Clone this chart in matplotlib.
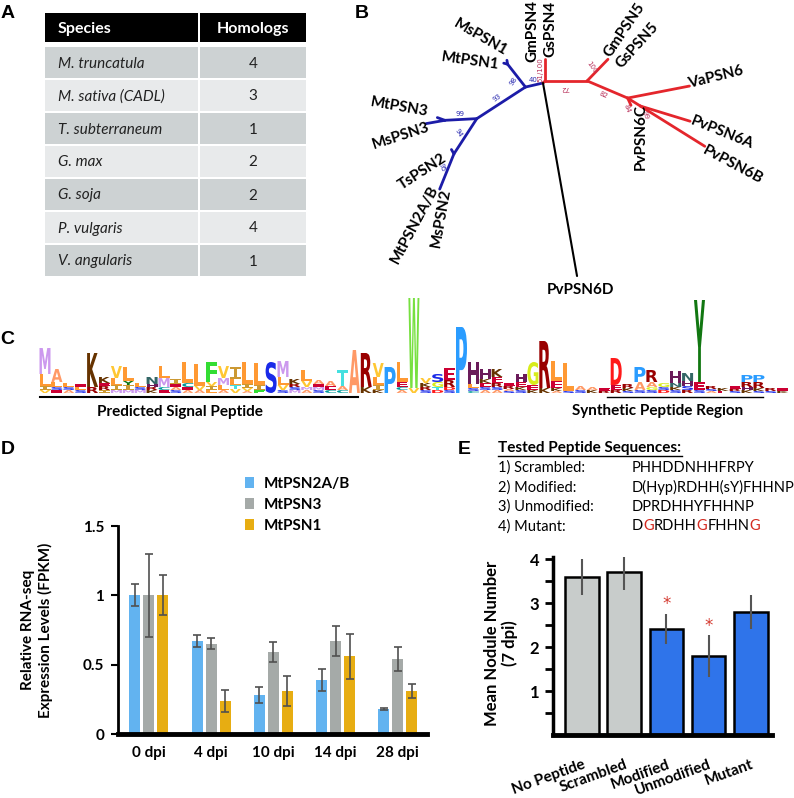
import numpy as np
import matplotlib
matplotlib.use("Agg")
import matplotlib.pyplot as plt
from matplotlib.patches import Rectangle, PathPatch
from matplotlib.textpath import TextPath
from matplotlib.font_manager import FontProperties
from matplotlib.transforms import Affine2D

FONT = "Lato"
LABEL_FONT = "Liberation Sans"

# ---------------- data ----------------
species = ["M. truncatula", "M. sativa (CADL)", "T. subterraneum", "G. max",
           "G. soja", "P. vulgaris", "V. angularis"]
homologs = [4, 3, 1, 2, 2, 4, 1]

# tree edges: parent, child, branch length, direction (deg), clade
tree_edges = [
    ("root", "N1", 18, 193, "blue"),
    ("N1", "F1", 29, 128, "blue"),
    ("F1", "MsPSN1", 4, 165, "blue"),
    ("F1", "MtPSN1", 4, 100, "blue"),
    ("N1", "N2", 58, 213, "blue"),
    ("N2", "F3", 32, 183, "blue"),
    ("F3", "MtPSN3", 8, 160, "blue"),
    ("F3", "MsPSN3", 19, 190, "blue"),
    ("N2", "N3", 42, 237, "blue"),
    ("N3", "TsPSN2", 5, 120, "blue"),
    ("N3", "MtPSN2", 38, 248, "blue"),
    ("root", "R1", 3, 45, "red"),
    ("R1", "GmPSN4", 22, 90, "red"),
    ("R1", "R2", 42, 0, "red"),
    ("R2", "GmPSN5", 30, 46, "red"),
    ("R2", "R3", 44, -23, "red"),
    ("R3", "VaPSN6", 63, 11, "red"),
    ("R3", "PvPSN6C", 8, -65, "red"),
    ("R3", "R4", 15, -32, "red"),
    ("R4", "PvPSN6A", 52, -17, "red"),
    ("R4", "PvPSN6B", 76, -32, "red"),
    ("root", "PvPSN6D", 196, -80, "black"),
]
leaf_names = ["MsPSN1", "MtPSN1", "MtPSN3", "MsPSN3", "TsPSN2", "MtPSN2A/B", "MsPSN2",
              "GmPSN4", "GsPSN4", "GmPSN5", "GsPSN5", "VaPSN6", "PvPSN6C",
              "PvPSN6A", "PvPSN6B", "PvPSN6D"]
bootstrap_values = ["40", "98", "93", "99", "94", "95",
                    "51/100", "72", "100", "82", "84", "99"]
bootstrap_clade = ["blue"] * 6 + ["red"] * 6

# sequence logo columns (letters top -> bottom with relative heights)
logo_columns = [
    "M26 L12 I4 V3", "A13 L5 S3 E3", "L4 S3 A3", "E3 L3 S3", "K34 R6",
    "K6 E3 R4 I3", "V12 L7 I5 M3", "L14 Y4 I5 M3", "L4 S3 M3", "N7 H3 R3 K3",
    "L12 M9 C3 E3", "I5 E3 A3 S3", "L21 C4 E3 A3", "L22 V4 A3", "F20 V4 I4 L3",
    "V12 M7 L5 A3", "I12 L6 T4 V4", "L22 I4 V3 A2", "L22 I5 F3", "S31",
    "M16 L8 V5 S3", "K5 R3 S3 M3", "L11 V6 M3 A3", "A4 E3 M3 S3", "A5 E4 C3",
    "T16 A4 C3", "A43", "R34 K6", "V14 L8 I5 K3", "P26",
    "L20 E5 C3 A3", "W90 V5", "V5 K4 R3 S3", "S8 G5 T3 D3", "E12 R7 D3 S3",
    "P66", "H22 L4 S3 C2", "H10 K4 E4 S3 A3", "K8 E6 R4 S3 A3", "E3 R3 A2 S2",
    "H8 E5 K3 S3", "G23 E5 K3", "R47 K5", "L20 E7 K3 A2", "L28 S2",
    "A4 S3", "A3 K3", "E3 R2", "D27 E5 R3", "R4 K3 S2",
    "P15 A8 S3", "R12 A5 G3 S3", "G4 S3 D3", "H12 N4 K3 S3", "N8 H5 S4 R3",
    "Y82 E8 S3", "R3 S2 A2", "K3 E2", "E3 R2 S2", "P7 R5 H3 K3",
    "P7 R6 K3 S2", "R3 S2", "E3 K2",
]

# panel D
dpi_labels = ["0 dpi", "4 dpi", "10 dpi", "14 dpi", "28 dpi"]
series_names = ["MtPSN2A/B", "MtPSN3", "MtPSN1"]
psn2 = [1.00, 0.67, 0.28, 0.39, 0.18]
psn2_err = [0.08, 0.045, 0.06, 0.08, 0.006]
psn3 = [1.00, 0.65, 0.59, 0.67, 0.54]
psn3_err = [0.30, 0.04, 0.07, 0.11, 0.085]
psn1 = [1.00, 0.24, 0.31, 0.56, 0.31]
psn1_err = [0.145, 0.08, 0.11, 0.16, 0.05]

# panel E
peptide_list_labels = ["1) Scrambled:", "2) Modified:", "3) Unmodified:", "4) Mutant:"]
peptide_seqs = ["PHHDDNHHFRPY", "D(Hyp)RDHH(sY)FHHNP", "DPRDHHYFHHNP", "DGRDHHGFHHNG"]
mutant_positions = [1, 6, 11]
peptide_names = ["No Peptide", "Scrambled", "Modified", "Unmodified", "Mutant"]
nodules = [3.59, 3.70, 2.41, 1.80, 2.80]
nodules_err = [0.41, 0.40, 0.34, 0.47, 0.39]
peptide_group = ["control", "control", "test", "test", "test"]
significant = [False, False, True, True, False]

# ---------------- figure ----------------
fig = plt.figure(figsize=(7.94, 7.98), dpi=100)
ov = fig.add_axes([0, 0, 1, 1])
ov.set_xlim(0, 794)
ov.set_ylim(798, 0)
ov.axis("off")
ov.patch.set_alpha(0)

# panel letters
for lab, (px, py) in zip("ABCDE", [(8, 13), (362, 13), (7, 340), (8, 449), (464, 450)]):
    ov.text(px, py, lab, family=LABEL_FONT, weight="bold", fontsize=14,
            ha="center", va="center")

# ---- panel A: table ----
tx0, tsplit, tx1 = 45, 198, 306
hy0, hy1 = 13, 42
ov.add_patch(Rectangle((tx0, hy0), tsplit - tx0, hy1 - hy0, color="black", lw=0))
ov.add_patch(Rectangle((tsplit + 2, hy0), tx1 - tsplit - 2, hy1 - hy0, color="black", lw=0))
cx2 = (tsplit + 2 + tx1) / 2
ov.text(58, (hy0 + hy1) / 2 + 1, "Species", color="white", weight="bold",
        fontsize=11.5, va="center", family=FONT)
ov.text(cx2, (hy0 + hy1) / 2 + 1, "Homologs", color="white", weight="bold",
        fontsize=11.5, va="center", ha="center", family=FONT)
row_h, ry0 = 33, 47
for k, (sp, h) in enumerate(zip(species, homologs)):
    y = ry0 + k * row_h
    c = "#cdd2d3" if k % 2 == 0 else "#e8eaeb"
    ov.add_patch(Rectangle((tx0, y), tsplit - tx0, row_h - 2, color=c, lw=0))
    ov.add_patch(Rectangle((tsplit + 2, y), tx1 - tsplit - 2, row_h - 2, color=c, lw=0))
    ov.text(58, y + (row_h - 2) / 2 + 1, sp, style="italic", fontsize=11,
            va="center", family=FONT, color="#222222")
    ov.text(cx2, y + (row_h - 2) / 2 + 1, str(h), fontsize=11, va="center",
            ha="center", family=FONT, color="#222222")

# ---- panel B: tree ----
clade_color = {"blue": "#1c1ca8", "red": "#e4262c", "black": "black"}
boot_color = {"blue": "#2a2ab0", "red": "#b8305a"}
pos = {"root": (543.0, 83.0)}
for parent, child, length, ang, clade in tree_edges:
    px, py = pos[parent]
    cx = px + length * np.cos(np.radians(ang))
    cy = py - length * np.sin(np.radians(ang))
    pos[child] = (cx, cy)
    ov.plot([px, cx], [py, cy], color=clade_color[clade],
            lw=2.0 if clade != "black" else 1.5, solid_capstyle="round")

leaf_layout = [(481, 37, -30), (470, 61, -8), (399, 107, -10), (401, 136, 18),
               (422, 172, 33), (415, 225, 62), (441, 218, 80),
               (532, 31, 90), (550, 29, 90), (624, 30, 56), (637, 45, 48),
               (716, 77, 14), (641, 137, 90), (722, 133, -22), (733, 165, -28),
               (580, 290, 0)]
for name, (lx, ly, rot) in zip(leaf_names, leaf_layout):
    ov.text(lx, ly, name, rotation=rot, ha="center", va="center", family=FONT,
            weight="bold", fontsize=11, rotation_mode="anchor")

boot_layout = [(533, 80, 0), (513, 81, 55), (497, 98, 35), (460, 114, 0),
               (458, 133, -60), (442, 167, -70), (540, 70, 90), (565, 88, 180),
               (592, 67, -55), (603, 95, -25), (627, 108, -70), (645, 115, -65)]
for val, clade, (bx, by, rot) in zip(bootstrap_values, bootstrap_clade, boot_layout):
    ov.text(bx, by, val, rotation=rot, ha="center", va="center", fontsize=5,
            color=boot_color[clade], family="DejaVu Sans")

# ---- panel C: sequence logo ----
aa_colors = {"A": "#ff9966", "C": "#009999", "D": "#ff1a1a", "E": "#cc0033",
             "F": "#33dd33", "G": "#d8ec1c", "H": "#6a1b5a", "I": "#cc9933",
             "K": "#663300", "L": "#ff9933", "M": "#cc99ee", "N": "#336666",
             "P": "#2a9cff", "Q": "#6666cc", "R": "#990000", "S": "#1a2ae8",
             "T": "#44e0e0", "V": "#ffc733", "W": "#77e040", "Y": "#117711"}
fp_logo = FontProperties(family="DejaVu Sans", weight="bold")
fp_mono = FontProperties(family="DejaVu Sans Mono", weight="bold")
glyph_cache = {}


def draw_letter(letter, xl, ybot, w, h):
    if h <= 0:
        return
    if letter not in glyph_cache:
        prop = fp_mono if letter == "I" else fp_logo
        glyph_cache[letter] = TextPath((0, 0), letter, size=10, prop=prop)
    tp = glyph_cache[letter]
    bb = tp.get_extents()
    tr = (Affine2D().translate(-bb.x0, -bb.y0)
          .scale(w / bb.width, -h / bb.height).translate(xl, ybot))
    ov.add_patch(PathPatch(tr.transform_path(tp), fc=aa_colors.get(letter, "#888888"),
                           ec="none", lw=0))


col_w, logo_x0, logo_base = 11.9, 45.0, 393.0
for i, col in enumerate(logo_columns):
    xc = logo_x0 + i * col_w
    items = [(s[0], float(s[1:])) for s in col.split()]
    y = logo_base
    for letter, h in reversed(items):
        draw_letter(letter, xc - 5.5, y, 11.0, h)
        y -= h

ov.plot([40, 358], [397, 397], color="black", lw=1.5)
ov.plot([607, 763], [397, 397], color="black", lw=1.0)
ov.text(180, 412, "Predicted Signal Peptide", family=FONT, weight="bold",
        fontsize=11, ha="center", va="center")
ov.text(658, 411, "Synthetic Peptide Region", family=FONT, weight="bold",
        fontsize=11, ha="center", va="center")

# ---- panel D ----
axD = fig.add_axes([118 / 794, (798 - 734) / 798, (427 - 118) / 794, (734 - 526) / 798])
axD.patch.set_alpha(0)
xD = np.arange(len(dpi_labels))
bw, boff = 0.177, 0.225
ekw = dict(ecolor="#505050", elinewidth=1.2, capthick=1.2)
for vals, errs, off, col, name in [(psn2, psn2_err, -boff, "#62b3f0", series_names[0]),
                                   (psn3, psn3_err, 0.0, "#a5aaa8", series_names[1]),
                                   (psn1, psn1_err, boff, "#e7ad12", series_names[2])]:
    axD.bar(xD + off, vals, bw, yerr=errs, color=col, capsize=3, error_kw=ekw, label=name)
axD.set_xlim(-0.498, 4.469)
axD.set_ylim(0, 1.5)
for s in ["top", "right"]:
    axD.spines[s].set_visible(False)
axD.spines["left"].set_linewidth(2)
axD.spines["bottom"].set_linewidth(3.5)
axD.set_yticks([0, 0.5, 1, 1.5])
axD.set_yticklabels(["0", "0.5", "1", "1.5"], family=FONT, weight="bold", fontsize=11)
axD.set_xticks(xD)
axD.set_xticklabels(dpi_labels, family=FONT, weight="bold", fontsize=11)
axD.tick_params(axis="y", length=5, width=1.5, pad=5)
axD.tick_params(axis="x", length=0, pad=9)
axD.legend(loc="upper left", bbox_to_anchor=(245 / 794, 1 - 477 / 798),
           bbox_transform=fig.transFigure, frameon=False, handlelength=0.6,
           handleheight=0.75, handletextpad=0.6, labelspacing=0.45, borderpad=0,
           borderaxespad=0, prop=FontProperties(family=FONT, weight="bold", size=11))
ov.text(37, 630, "Relative RNA-seq\nExpression Levels (FPKM)", rotation=90,
        family=FONT, weight="bold", fontsize=11, ha="center", va="center",
        multialignment="center", linespacing=1.2)

# ---- panel E ----
ov.text(498, 448, "Tested Peptide Sequences:", family=FONT, weight="bold",
        fontsize=11, va="center")
ov.plot([498, 682], [456, 456], color="black", lw=1)
renderer = fig.canvas.get_renderer()
seq_fs = 10.5


def text_width(s):
    t = ov.text(0, 0, s, family=FONT, fontsize=seq_fs)
    w = t.get_window_extent(renderer=renderer).width
    t.remove()
    return w


for k, (lab, seq) in enumerate(zip(peptide_list_labels, peptide_seqs)):
    yy = 468 + k * 19.5
    ov.text(498, yy, lab, family=FONT, fontsize=seq_fs, va="center")
    if k != 3:
        ov.text(632, yy, seq, family=FONT, fontsize=seq_fs, va="center")
        continue
    # split the mutant sequence into black / red runs, placed where they sit
    # inside the full string
    bounds = sorted(set([0, len(seq)] + mutant_positions + [p + 1 for p in mutant_positions]))
    for a, b in zip(bounds[:-1], bounds[1:]):
        seg = seq[a:b]
        offset = 0.0 if a == 0 else text_width(seq[:b]) - text_width(seg)
        ov.text(632 + offset, yy, seg, family=FONT, fontsize=seq_fs, va="center",
                color="#d42a20" if a in mutant_positions else "black")

axE = fig.add_axes([553 / 794, (798 - 735) / 798, (772 - 553) / 794, (735 - 557) / 798])
axE.patch.set_alpha(0)
xE = np.arange(len(peptide_names))
group_col = {"control": "#c8cccb", "test": "#2f74ea"}
axE.bar(xE, nodules, 0.8, color=[group_col[g] for g in peptide_group],
        edgecolor="black", linewidth=1.8)
axE.errorbar(xE, nodules, yerr=nodules_err, fmt="none", ecolor="#555555",
             elinewidth=1.5, capsize=0)
for xi, v, e, sig in zip(xE, nodules, nodules_err, significant):
    if sig:
        axE.text(xi, v + e + 0.22, "*", color="#d43a30", ha="center", va="center",
                 fontsize=12, family="DejaVu Sans")
axE.set_xlim(-0.687, 4.502)
axE.set_ylim(0, 4.05)
for s in ["top", "right"]:
    axE.spines[s].set_visible(False)
axE.spines["left"].set_linewidth(2.5)
axE.spines["bottom"].set_linewidth(3.5)
axE.set_yticks([1, 2, 3, 4])
axE.set_yticks([0.5, 1.5, 2.5, 3.5], minor=True)
axE.set_yticklabels(["1", "2", "3", "4"], family=FONT, weight="bold", fontsize=12)
axE.tick_params(axis="y", which="both", length=6, width=2, pad=4)
axE.set_xticks(xE)
axE.set_xticklabels(peptide_names, rotation=20, ha="right", rotation_mode="anchor",
                    family=FONT, weight="bold", fontsize=11)
axE.tick_params(axis="x", length=0, pad=16)
ov.text(501, 643, "Mean Nodule Number\n(7 dpi)", rotation=90, family=FONT,
        weight="bold", fontsize=12, ha="center", va="center",
        multialignment="center", linespacing=1.15)

fig.savefig("out.png", dpi=100)
